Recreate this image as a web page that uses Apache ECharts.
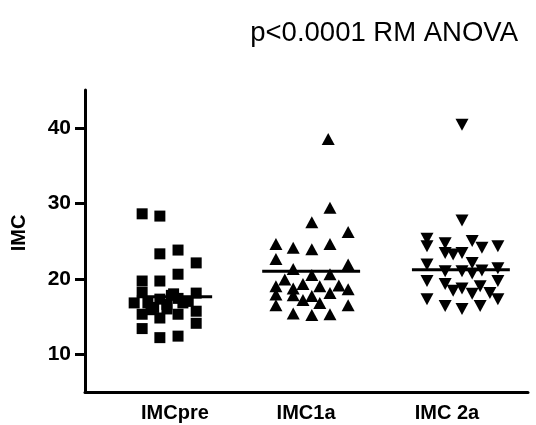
<!DOCTYPE html>
<html><head><meta charset="utf-8">
<script src="https://cdn.jsdelivr.net/npm/echarts@6/dist/echarts.min.js"></script>
<style>html,body{margin:0;padding:0;background:#fff}#c{width:536px;height:425px}</style>
</head><body><div id="c"></div>
<script>
// Category names and label positions (x in axis units 0-100)
const categories = ['IMCpre', 'IMC1a', 'IMC 2a'];
const labelPos = [20.3, 49.9, 81.7];
const yTicks = [10, 20, 30, 40];
const title = 'p<0.0001 RM ANOVA';

// IMCpre (squares): jitter x and values
const preX = [12.9, 16.9, 16.9, 21.0, 25.1, 21.0, 12.9, 16.9, 12.9, 25.1, 11.1, 16.9, 21.0, 14.2, 18.5, 22.1, 12.9, 16.9, 21.0, 25.1, 25.1, 12.9, 16.9, 21.0, 18.5, 23.3, 14.9, 20.0, 19.5, 15.5];
const preY = [28.6, 28.3, 23.3, 23.8, 22.1, 20.6, 19.7, 19.7, 18.2, 18.1, 16.8, 17.3, 17.4, 16.8, 16.6, 16.8, 15.3, 14.8, 15.3, 15.7, 14.1, 13.4, 12.2, 12.4, 16.0, 17.0, 15.9, 18.0, 17.8, 16.2];
const preMean = 17.6;

// IMC1a (up triangles)
const y1X = [54.9, 55.3, 51.2, 59.4, 43.1, 47.0, 51.2, 55.3, 43.1, 59.4, 47.0, 51.2, 55.3, 45.1, 43.1, 49.2, 53.0, 57.3, 47.0, 59.4, 43.1, 47.0, 55.3, 51.2, 49.2, 43.1, 53.0, 59.4, 47.0, 51.2, 55.3];
const y1Y = [38.5, 29.4, 27.5, 26.2, 24.6, 24.1, 23.9, 24.6, 22.6, 21.9, 21.3, 20.5, 20.6, 19.9, 19.0, 19.3, 19.0, 19.1, 18.7, 18.6, 17.9, 17.8, 18.1, 17.7, 17.2, 16.5, 16.8, 16.5, 15.4, 15.2, 15.3];
const y1Mean = 21.0;

// IMC 2a (down triangles)
const y2X = [85.1, 85.1, 77.2, 77.2, 81.3, 87.4, 89.6, 93.2, 81.3, 83.1, 85.1, 77.2, 87.4, 81.3, 85.1, 87.4, 89.6, 93.2, 93.2, 77.2, 81.3, 83.1, 85.1, 89.2, 91.4, 87.4, 77.2, 93.2, 81.3, 85.1, 89.2];
const y2Y = [40.4, 27.7, 25.3, 24.3, 24.7, 25.0, 24.1, 24.3, 23.4, 23.2, 23.4, 21.9, 22.1, 21.0, 21.0, 20.7, 21.1, 21.4, 19.7, 19.7, 19.3, 18.4, 18.7, 19.0, 18.1, 18.0, 17.3, 17.3, 16.4, 16.0, 16.4];
const y2Mean = 21.2;

// mean line extents (x axis units)
const meanSpan = [[11.7, 28.7], [40.0, 62.1], [73.8, 95.9]];
const means = [preMean, y1Mean, y2Mean];

const zip = (xs, ys) => xs.map((x, i) => [x, ys[i]]);
const font = 'Liberation Sans, Arial, sans-serif';
const solid = { color: '#000', opacity: 1 };

const series = [
  { type: 'scatter', data: zip(preX, preY), symbol: 'rect', symbolSize: 11, itemStyle: solid, z: 3 },
  { type: 'scatter', data: zip(y1X, y1Y), symbol: 'triangle', symbolSize: [13, 12], itemStyle: solid, z: 3 },
  { type: 'scatter', data: zip(y2X, y2Y), symbol: 'triangle', symbolRotate: 180, symbolSize: [13, 12], itemStyle: solid, z: 3 }
];
means.forEach((m, i) => {
  series.push({ type: 'line', data: [[meanSpan[i][0], m], [meanSpan[i][1], m]], showSymbol: false, symbol: 'none',
    lineStyle: { color: '#000', width: 3, opacity: 1 }, z: 4, silent: true });
});

const chart = echarts.init(document.getElementById('c'));
chart.setOption({
  animation: false,
  backgroundColor: '#fff',
  title: { text: title, right: 13, top: 14, textStyle: { fontFamily: font, fontSize: 27.5, fontWeight: 'normal', color: '#000' } },
  grid: { left: 85, right: 8, top: 90, bottom: 33 },
  xAxis: {
    type: 'value', min: 0, max: 100,
    axisLine: { show: true, lineStyle: { color: '#000', width: 3 } },
    axisTick: { show: false },
    splitLine: { show: false },
    axisLabel: { customValues: labelPos, formatter: (v) => categories[labelPos.indexOf(v)] || '', margin: 11,
      color: '#000', fontFamily: font, fontWeight: 'bold', fontSize: 20 }
  },
  yAxis: {
    type: 'value', min: 5, max: 45,
    name: 'IMC', nameLocation: 'middle', nameGap: 56,
    nameTextStyle: { fontFamily: font, fontWeight: 'bold', fontSize: 20, color: '#000', padding: [0, 0, 0, 16] },
    axisLine: { show: true, lineStyle: { color: '#000', width: 3 } },
    axisTick: { show: true, customValues: yTicks, length: 10, lineStyle: { color: '#000', width: 3 } },
    axisLabel: { customValues: yTicks, margin: 14, color: '#000', fontFamily: font, fontWeight: 'bold', fontSize: 21 },
    splitLine: { show: false }
  },
  series: series
});
</script></body></html>
